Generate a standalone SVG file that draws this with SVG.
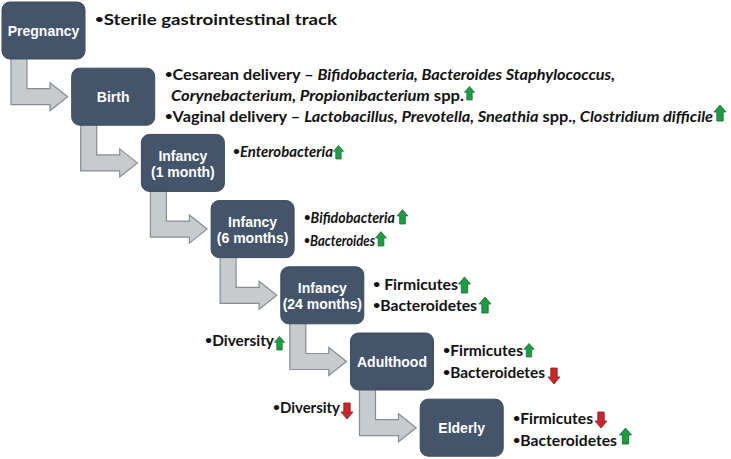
<svg xmlns="http://www.w3.org/2000/svg" xmlns:xlink="http://www.w3.org/1999/xlink" width="731" height="459" viewBox="0 0 731 459">
<style>
.box{fill:#44546a;stroke:#3b4a5e;stroke-width:1}
.lbl{font-family:"Liberation Sans",Arial,sans-serif;font-weight:bold;font-size:14px;fill:#ffffff;text-anchor:middle}
.t{font-family:Lato,"Open Sans",sans-serif;font-weight:bold;font-size:15px;fill:#111111}
.i{font-style:italic}
.b{font-size:12px;baseline-shift:2px}
.bend{fill:#c8cacd;stroke:#858c95;stroke-width:1.2;stroke-linejoin:miter}
.up{fill:#1f9b45;stroke:#0f6b2b;stroke-width:0.8}
.dn{fill:#c6282b;stroke:#8a1a1c;stroke-width:0.8}
</style>
<defs>
<path id="bendArrow" d="M9,52 V102.7 H48 V108.7 L65.7,94.7 L48,80.7 V86.7 H25 V52 Z"/>
<path id="upArrow" d="M-3.2,0 V-9 H-6 L0,-16 L6,-9 H3.2 V0 Z"/>
<path id="dnArrow" d="M-3.2,0 V9 H-6 L0,16 L6,9 H3.2 V0 Z"/>
</defs>
<g id="connectors">
<use xlink:href="#bendArrow" class="bend" transform="translate(2,2)"/>
<use xlink:href="#bendArrow" class="bend" transform="translate(71.7,68.2)"/>
<use xlink:href="#bendArrow" class="bend" transform="translate(141.4,134.4)"/>
<use xlink:href="#bendArrow" class="bend" transform="translate(211.1,200.6)"/>
<use xlink:href="#bendArrow" class="bend" transform="translate(280.8,266.8)"/>
<use xlink:href="#bendArrow" class="bend" transform="translate(350.5,333)"/>
</g>
<g id="pregnancy">
<rect class="box" x="2" y="2" width="83" height="57" rx="8"/>
<text class="lbl" x="43.5" y="35.5">Pregnancy</text>
<text class="t" x="95" y="25" textLength="242" lengthAdjust="spacingAndGlyphs"><tspan class="b">•</tspan>Sterile gastrointestinal track</text>
</g>
<g id="birth">
<rect class="box" x="71.7" y="68.2" width="83" height="57" rx="8"/>
<text class="lbl" x="113.2" y="101.7">Birth</text>
<text class="t" x="165" y="80" textLength="450" lengthAdjust="spacingAndGlyphs"><tspan class="b">•</tspan>Cesarean delivery – <tspan class="i">Bifidobacteria, Bacteroides Staphylococcus,</tspan></text>
<text class="t" x="171" y="101" textLength="293" lengthAdjust="spacingAndGlyphs"><tspan class="i">Corynebacterium, Propionibacterium</tspan> spp.</text>
<text class="t" x="165" y="122" textLength="548" lengthAdjust="spacingAndGlyphs"><tspan class="b">•</tspan>Vaginal delivery – <tspan class="i">Lactobacillus, Prevotella, Sneathia</tspan> spp., <tspan class="i">Clostridium difficile</tspan></text>
<use xlink:href="#upArrow" class="up" transform="translate(469.5,100) scale(0.85)"/>
<use xlink:href="#upArrow" class="up" transform="translate(720,121)"/>
</g>
<g id="infancy1">
<rect class="box" x="141.4" y="134.4" width="83" height="57" rx="8"/>
<text class="lbl" x="182.9" y="160.5">Infancy</text>
<text class="lbl" x="182.9" y="176.5">(1 month)</text>
<text class="t" x="233" y="157" textLength="100" lengthAdjust="spacingAndGlyphs"><tspan class="b">•</tspan><tspan class="i">Enterobacteria</tspan></text>
<use xlink:href="#upArrow" class="up" transform="translate(338.5,159) scale(0.85)"/>
</g>
<g id="infancy6">
<rect class="box" x="211.1" y="200.6" width="83" height="57" rx="8"/>
<text class="lbl" x="252.6" y="226.7">Infancy</text>
<text class="lbl" x="252.6" y="242.7">(6 months)</text>
<text class="t" x="304" y="222.5" textLength="91" lengthAdjust="spacingAndGlyphs"><tspan class="b">•</tspan><tspan class="i">Bifidobacteria</tspan></text>
<text class="t" x="304" y="245.5" textLength="71" lengthAdjust="spacingAndGlyphs"><tspan class="b">•</tspan><tspan class="i">Bacteroides</tspan></text>
<use xlink:href="#upArrow" class="up" transform="translate(402.5,224) scale(0.9)"/>
<use xlink:href="#upArrow" class="up" transform="translate(381,246) scale(0.9)"/>
</g>
<g id="infancy24">
<rect class="box" x="280.8" y="266.8" width="83" height="57" rx="8"/>
<text class="lbl" x="322.3" y="292.9">Infancy</text>
<text class="lbl" x="322.3" y="308.9">(24 months)</text>
<text class="t" x="373" y="290" textLength="85" lengthAdjust="spacingAndGlyphs"><tspan class="b">•</tspan> Firmicutes</text>
<text class="t" x="373" y="311" textLength="104" lengthAdjust="spacingAndGlyphs"><tspan class="b">•</tspan>Bacteroidetes</text>
<use xlink:href="#upArrow" class="up" transform="translate(464.5,293)"/>
<use xlink:href="#upArrow" class="up" transform="translate(485,313)"/>
</g>
<g id="adulthood">
<rect class="box" x="350.5" y="333" width="83" height="57" rx="8"/>
<text class="lbl" x="392" y="366.5">Adulthood</text>
<text class="t" x="205" y="346" textLength="69" lengthAdjust="spacingAndGlyphs"><tspan class="b">•</tspan>Diversity</text>
<use xlink:href="#upArrow" class="up" transform="translate(279.5,350) scale(0.85)"/>
<text class="t" x="443" y="356" textLength="80" lengthAdjust="spacingAndGlyphs"><tspan class="b">•</tspan>Firmicutes</text>
<text class="t" x="443" y="378" textLength="102" lengthAdjust="spacingAndGlyphs"><tspan class="b">•</tspan>Bacteroidetes</text>
<use xlink:href="#upArrow" class="up" transform="translate(529,357) scale(0.85)"/>
<use xlink:href="#dnArrow" class="dn" transform="translate(554,368)"/>
</g>
<g id="elderly">
<rect class="box" x="420.2" y="399.2" width="83" height="57" rx="8"/>
<text class="lbl" x="461.7" y="432.7">Elderly</text>
<text class="t" x="273" y="413" textLength="67" lengthAdjust="spacingAndGlyphs"><tspan class="b">•</tspan>Diversity</text>
<use xlink:href="#dnArrow" class="dn" transform="translate(347,403)"/>
<text class="t" x="513" y="424" textLength="80" lengthAdjust="spacingAndGlyphs"><tspan class="b">•</tspan>Firmicutes</text>
<text class="t" x="513" y="446" textLength="104" lengthAdjust="spacingAndGlyphs"><tspan class="b">•</tspan>Bacteroidetes</text>
<use xlink:href="#dnArrow" class="dn" transform="translate(601,412)"/>
<use xlink:href="#upArrow" class="up" transform="translate(625.5,444)"/>
</g>
</svg>
